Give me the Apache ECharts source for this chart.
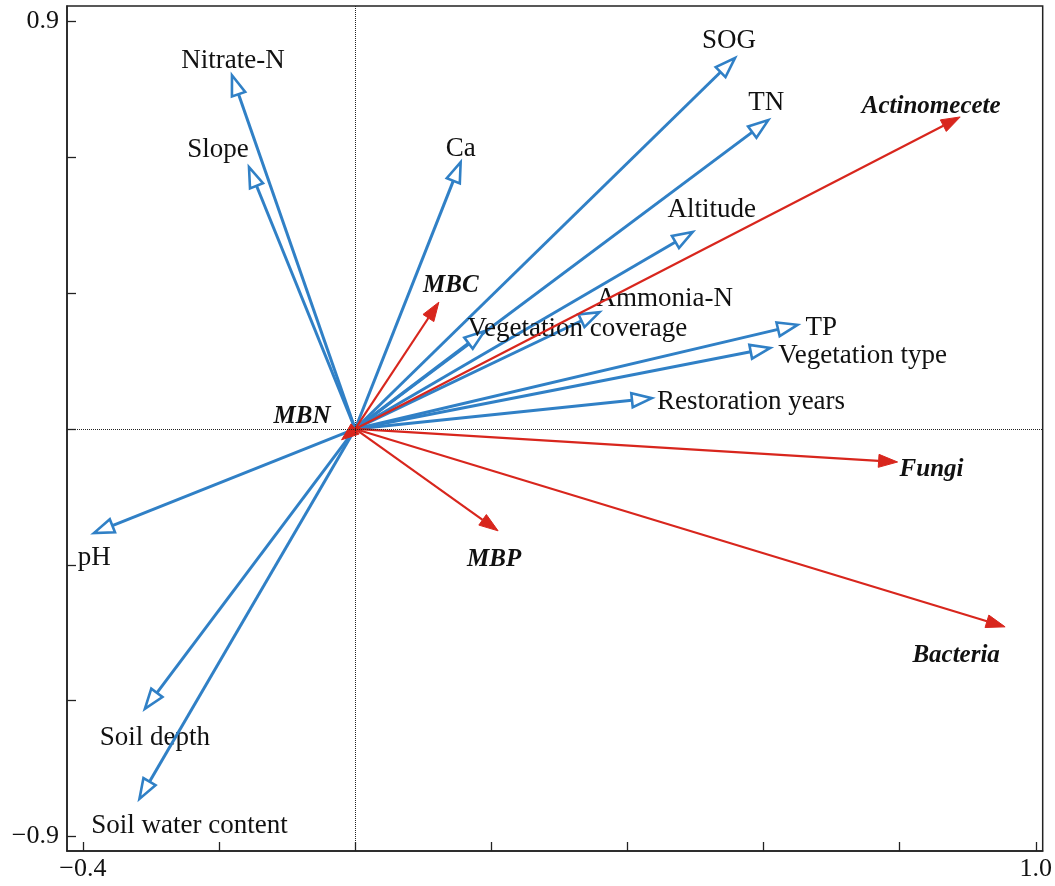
<!DOCTYPE html>
<html><head><meta charset="utf-8">
<script src="https://cdn.jsdelivr.net/npm/echarts@6/dist/echarts.min.js"></script>
<style>html,body{margin:0;padding:0;background:#fff}#c{width:1055px;height:886px}</style>
</head><body><div id="c"></div>
<script>
// Environmental factors (blue, open heads)
const envNames = ['Nitrate-N','Slope','Ca','SOG','TN','Altitude','Ammonia-N','Vegetation coverage','TP','Vegetation type','Restoration years','pH','Soil depth','Soil water content'];
const envX = [-0.181,-0.156,0.155,0.558,0.607,0.496,0.359,0.190,0.650,0.610,0.436,-0.384,-0.309,-0.317];
const envY = [0.781,0.578,0.589,0.819,0.682,0.435,0.258,0.216,0.230,0.179,0.068,-0.230,-0.618,-0.817];
// Microbial variables (red, filled heads)
const bioNames = ['MBC','Actinomecete','Fungi','Bacteria','MBP','MBN'];
const bioX = [0.123,0.889,0.797,0.955,0.210,-0.020];
const bioY = [0.280,0.689,-0.073,-0.437,-0.225,-0.024];
// Axis ticks
const xTicks = [-0.4,-0.2,0,0.2,0.4,0.6,0.8,1.0];
const xTickLabels = [-0.4,1.0];
const yTicks = [-0.9,-0.6,-0.3,0,0.3,0.6,0.9];
const yTickLabels = [-0.9,0.9];
const xRange = [-0.4234,1.0102];
const yRange = [-0.932,0.934];

// label placement (pixel offsets from arrow tip)
const labelLayout = {
  'Nitrate-N':[1,-18,'center'],'Slope':[-31,-21,'center'],'Ca':[0,-17,'center'],
  'SOG':[-6,-21,'center'],'TN':[-2,-21,'center'],'Altitude':[19,-26,'center'],
  'Ammonia-N':[-3,-17,'left'],'Vegetation coverage':[-17,-6,'left'],'TP':[8,0,'left'],
  'Vegetation type':[8,5,'left'],'Restoration years':[5,0,'left'],'pH':[-16,21,'left'],
  'Soil depth':[10,26,'center'],'Soil water content':[50,23,'center'],
  'MBC':[12,-20,'center'],'Actinomecete':[-29,-14,'center'],'Fungi':[2,4,'left'],
  'Bacteria':[-49,25,'center'],'MBP':[-4,25,'center'],'MBN':[-11,-27,'right']
};
const LABEL_SHIFT = 3.5;
const FONT = '"Liberation Serif","Times New Roman",serif';
const BLUE = '#3080c6', RED = '#d8261d';

function arrowSeries(names, xs, ys, color, open){
  const data = names.map((n,i)=>[xs[i], ys[i], n]);
  return {
    type:'custom', clip:false, z: open?3:4,
    data,
    renderItem(params, api){
      const x = api.value(0), y = api.value(1), name = names[params.dataIndex];
      const p0 = api.coord([0,0]), p1 = api.coord([x,y]);
      const dx = p1[0]-p0[0], dy = p1[1]-p0[1];
      const dist = Math.sqrt(dx*dx+dy*dy);
      const ux = dx/dist, uy = dy/dist;
      const L = open ? Math.min(20, dist) : Math.min(19, dist);
      const W = open ? 7 : 6.5;
      const bx = p1[0]-ux*L, by = p1[1]-uy*L;
      const nx = -uy, ny = ux;
      const children = [];
      if (dist > L) children.push({type:'line', shape:{x1:p0[0],y1:p0[1],x2:bx,y2:by},
        style:{stroke:color, lineWidth: open?3:2.2}});
      children.push({type:'polygon', shape:{points:[[p1[0],p1[1]],[bx+nx*W,by+ny*W],[bx-nx*W,by-ny*W]]},
        style: open ? {fill:'#fff', stroke:color, lineWidth:2.6, lineJoin:'miter'} : {fill:color, stroke:color, lineWidth:1}});
      const lay = labelLayout[name] || [0,0,'center'];
      children.push({type:'text', x:p1[0]+lay[0], y:p1[1]+lay[1]+LABEL_SHIFT,
        style:{text:name, fill:'#111', font: open ? ('27px '+FONT) : ('italic bold 25px '+FONT),
          align:lay[2], verticalAlign:'middle'}});
      return {type:'group', children};
    }
  };
}

const chart = echarts.init(document.getElementById('c'));
chart.setOption({
  animation:false,
  grid:{left:67,right:6,top:6,bottom:35,show:true,borderColor:'#222',borderWidth:1.5,containLabel:false},
  xAxis:{type:'value',min:xRange[0],max:xRange[1],
    axisLine:{show:true,onZero:false,lineStyle:{color:'#222',width:1.5}},
    axisTick:{show:true,inside:true,length:9,customValues:xTicks,lineStyle:{color:'#222',width:1.3}},
    axisLabel:{show:true,customValues:xTickLabels,margin:5,color:'#111',fontFamily:FONT,fontSize:26,
      formatter:v=>(v<0?'\u2212':'')+Math.abs(v).toFixed(1)},
    splitLine:{show:false}},
  yAxis:{type:'value',min:yRange[0],max:yRange[1],
    axisLine:{show:true,onZero:false,lineStyle:{color:'#222',width:1.5}},
    axisTick:{show:true,inside:true,length:9,customValues:yTicks,lineStyle:{color:'#222',width:1.3}},
    axisLabel:{show:true,customValues:yTickLabels,margin:8,color:'#111',fontFamily:FONT,fontSize:26,
      formatter:v=>(v<0?'\u2212':'')+Math.abs(v).toFixed(1)},
    splitLine:{show:false}},
  series:[
    {type:'scatter',data:[],silent:true,
      markLine:{silent:true,symbol:'none',label:{show:false},animation:false,
        lineStyle:{type:'dotted',color:'#222',width:1},
        data:[{xAxis:0},{yAxis:0}]}},
    arrowSeries(envNames, envX, envY, BLUE, true),
    arrowSeries(bioNames, bioX, bioY, RED, false)
  ]
});
</script></body></html>
